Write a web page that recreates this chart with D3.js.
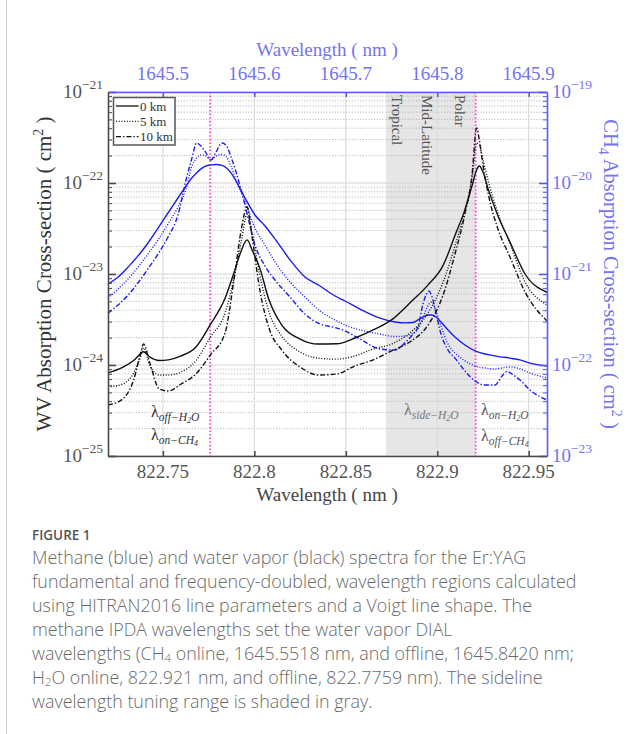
<!DOCTYPE html>
<html><head><meta charset="utf-8">
<script src="https://cdnjs.cloudflare.com/ajax/libs/d3/7.8.5/d3.min.js"></script>
<style>body{margin:0;background:#fff;} svg{display:block}</style>
</head><body>
<svg id="fig" width="641" height="734"></svg>
<script>
// Water vapour cross-sections (cm^2) on the 822 nm grid, for 0, 5 and 10 km altitude
const wvWavelength = [822.7200, 822.7280, 822.7340, 822.7380, 822.7394, 822.7430, 822.7480, 822.7530, 822.7600, 822.7680,
  822.7760, 822.7840, 822.7890, 822.7930, 822.7960, 822.7990, 822.8030, 822.8080, 822.8150, 822.8250,
  822.8350, 822.8450, 822.8550, 822.8650, 822.8750, 822.8850, 822.8950, 822.9030, 822.9100, 822.9150,
  822.9190, 822.9215, 822.9230, 822.9250, 822.9280, 822.9330, 822.9400, 822.9480, 822.9600];
const wv0km = [8.2e-25, 9.4e-25, 1.12e-24, 1.34e-24, 1.40e-24, 1.22e-24, 1.12e-24, 1.14e-24, 1.26e-24, 1.57e-24,
  2.79e-24, 5.4e-24, 1.05e-23, 1.84e-23, 2.37e-23, 1.79e-23, 1.16e-23, 5.2e-24, 2.75e-24, 1.93e-24,
  1.70e-24, 1.71e-24, 1.98e-24, 2.43e-24, 3.13e-24, 4.80e-24, 7.6e-24, 1.22e-23, 2.75e-23, 5.0e-23,
  9.3e-23, 1.39e-22, 1.54e-22, 1.32e-22, 8.4e-23, 4.45e-23, 2.19e-23, 1.0e-23, 6.3e-24];
const wv5km = [5.73e-25, 6.18e-25, 8.17e-25, 1.26e-24, 1.54e-24, 9.75e-25, 7.76e-25, 7.76e-25, 8.38e-25, 1.11e-24,
  2.03e-24, 3.73e-24, 9.27e-24, 2.37e-23, 4.56e-23, 2.69e-23, 9.75e-24, 3.82e-24, 2.08e-24, 1.39e-24,
  1.19e-24, 1.16e-24, 1.26e-24, 1.50e-24, 1.70e-24, 2.25e-24, 3.73e-24, 7.96e-24, 2.14e-23, 4.80e-23,
  1.13e-22, 2.75e-22, 2.62e-22, 1.79e-22, 1.03e-22, 4.80e-23, 2.08e-23, 8.17e-24, 4.56e-24];
const wv10km = [3.63e-25, 4.23e-25, 6.84e-25, 1.39e-24, 1.70e-24, 1.03e-24, 5.45e-25, 5.18e-25, 6.18e-25, 7.96e-25,
  1.29e-24, 2.25e-24, 9.04e-24, 3.20e-23, 5.45e-23, 2.37e-23, 6.67e-24, 2.55e-24, 1.46e-24, 9.51e-25,
  7.76e-25, 7.96e-25, 9.75e-25, 1.14e-24, 1.43e-24, 1.79e-24, 2.75e-24, 5.73e-24, 1.75e-23, 4.45e-23,
  1.22e-22, 4.02e-22, 2.97e-22, 1.58e-22, 7.38e-23, 3.20e-23, 1.50e-23, 6.34e-24, 3.05e-24];

// Methane cross-sections (cm^2) on the 1645 nm grid, for 0, 5 and 10 km altitude
const ch4Wavelength = [1645.4400, 1645.4510, 1645.4619, 1645.4728, 1645.4837, 1645.4947, 1645.5056, 1645.5165, 1645.5253, 1645.5318,
  1645.5368, 1645.5417, 1645.5472, 1645.5526, 1645.5581, 1645.5647, 1645.5696, 1645.5745, 1645.5800, 1645.5898,
  1645.6007, 1645.6117, 1645.6226, 1645.6390, 1645.6554, 1645.6718, 1645.6882, 1645.6991, 1645.7155, 1645.7374,
  1645.7538, 1645.7647, 1645.7735, 1645.7789, 1645.7844, 1645.7877, 1645.7910, 1645.7943, 1645.7986, 1645.8041,
  1645.8118, 1645.8194, 1645.8303, 1645.8413, 1645.8522, 1645.8631, 1645.8708, 1645.8763, 1645.8817, 1645.8905,
  1645.9014, 1645.9200];
const ch4_0km = [7.76e-22, 9.27e-22, 1.19e-21, 1.58e-21, 2.19e-21, 3.20e-21, 4.68e-21, 6.84e-21, 9.27e-21, 1.14e-20,
  1.29e-20, 1.43e-20, 1.54e-20, 1.58e-20, 1.60e-20, 1.56e-20, 1.46e-20, 1.29e-20, 1.05e-20, 6.84e-21,
  4.45e-21, 3.37e-21, 2.43e-21, 1.43e-21, 9.27e-22, 7.38e-22, 5.73e-22, 5.05e-22, 4.12e-22, 3.28e-22,
  2.97e-22, 2.90e-22, 2.93e-22, 3.13e-22, 3.37e-22, 3.50e-22, 3.54e-22, 3.54e-22, 3.37e-22, 2.97e-22,
  2.43e-22, 2.03e-22, 1.66e-22, 1.43e-22, 1.32e-22, 1.26e-22, 1.22e-22, 1.21e-22, 1.18e-22, 1.14e-22,
  1.05e-22, 9.75e-23];
const ch4_5km = [5.45e-22, 6.84e-22, 8.81e-22, 1.19e-21, 1.66e-21, 2.37e-21, 3.54e-21, 5.45e-21, 8.59e-21, 1.54e-20,
  1.88e-20, 2.03e-20, 1.98e-20, 1.79e-20, 1.98e-20, 2.06e-20, 1.93e-20, 1.54e-20, 1.08e-20, 6.34e-21,
  3.20e-21, 2.08e-21, 1.36e-21, 8.17e-22, 5.58e-22, 3.92e-22, 3.13e-22, 2.75e-22, 2.43e-22, 2.19e-22,
  2.06e-22, 2.08e-22, 2.22e-22, 2.49e-22, 3.28e-22, 4.02e-22, 4.68e-22, 4.92e-22, 3.92e-22, 2.69e-22,
  1.70e-22, 1.36e-22, 1.11e-22, 9.75e-23, 9.27e-23, 9.04e-23, 9.27e-23, 9.51e-23, 9.51e-23, 9.04e-23,
  8.17e-23, 7.19e-23];
const ch4_10km = [3.72e-22, 4.56e-22, 5.87e-22, 7.96e-22, 1.14e-21, 1.66e-21, 2.55e-21, 4.45e-21, 1.08e-20, 1.88e-20,
  2.75e-20, 2.55e-20, 2.14e-20, 1.79e-20, 2.19e-20, 2.75e-20, 2.55e-20, 1.93e-20, 1.32e-20, 5.73e-21,
  2.08e-21, 1.22e-21, 8.59e-22, 5.58e-22, 3.63e-22, 2.82e-22, 2.58e-22, 2.37e-22, 1.93e-22, 1.50e-22,
  1.46e-22, 1.75e-22, 2.19e-22, 2.62e-22, 4.68e-22, 5.87e-22, 6.50e-22, 5.58e-22, 3.72e-22, 2.19e-22,
  1.46e-22, 1.19e-22, 8.59e-23, 6.67e-23, 6.03e-23, 6.03e-23, 7.57e-23, 8.49e-23, 7.96e-23, 6.84e-23,
  5.31e-23, 4.12e-23];

// Axis ticks
const bottomTicks = [822.75, 822.8, 822.85, 822.9, 822.95];
const topTicks = [1645.5, 1645.6, 1645.7, 1645.8, 1645.9];
const leftExponents = [-21, -22, -23, -24, -25];
const rightExponents = [-19, -20, -21, -22, -23];

// Laser wavelengths and the sideline tuning range
const h2oOffline = 822.7759;
const h2oOnline = 822.921;
const sidelineRange = [822.872, 822.921];
const regionNames = ["Tropical", "Mid-Latitude", "Polar"];
const regionWavelengths = [822.8780, 822.8943, 822.9125];
const altitudes = ["0 km", "5 km", "10 km"];

const captionLines = [
  "Methane (blue) and water vapor (black) spectra for the Er:YAG",
  "fundamental and frequency-doubled, wavelength regions calculated",
  "using HITRAN2016 line parameters and a Voigt line shape. The",
  "methane IPDA wavelengths set the water vapor DIAL",
  "wavelengths (CH<sub>4</sub> online, 1645.5518 nm, and offline, 1645.8420 nm;",
  "H<sub>2</sub>O online, 822.921 nm, and offline, 822.7759 nm). The sideline",
  "wavelength tuning range is shaded in gray."
];

const svg = d3.select("#fig");
const L = 108, R = 547, T = 92, B = 456;
const serif = "'Liberation Serif', 'Times New Roman', serif";
const blueText = "#7474f2";
const blueLine = "#1c1cf5";
const axisBlue = "#5a5af5";

const x = d3.scaleLinear().domain([822.72, 822.96]).range([L, R]);
const xTop = d3.scaleLinear().domain([1645.44, 1645.92]).range([L, R]);
const yL = d3.scaleLog().domain([1e-25, 1e-21]).range([B, T]);
const yR = d3.scaleLog().domain([1e-23, 1e-19]).range([B, T]);

// figure frame line
svg.append("line").attr("x1", 6.5).attr("x2", 6.5).attr("y1", 0).attr("y2", 734)
  .attr("stroke", "#d0d0d0").attr("stroke-width", 1);

// sideline shading
svg.append("rect").attr("x", x(sidelineRange[0])).attr("y", T)
  .attr("width", x(sidelineRange[1]) - x(sidelineRange[0])).attr("height", B - T)
  .attr("fill", "#e6e6e6");

// grid
const grid = svg.append("g");
const minorVals = [];
for (let e = -25; e < -21; e++) for (let m = 2; m <= 9; m++) minorVals.push(m * Math.pow(10, e));
grid.selectAll(".hmin").data(minorVals).join("line")
  .attr("x1", L).attr("x2", R).attr("y1", d => yL(d)).attr("y2", d => yL(d))
  .attr("stroke", "#b4b4b4").attr("stroke-width", 0.9).attr("stroke-dasharray", "1.2,1.6");
grid.selectAll(".hmaj").data(leftExponents).join("line")
  .attr("x1", L).attr("x2", R).attr("y1", d => yL(Math.pow(10, d))).attr("y2", d => yL(Math.pow(10, d)))
  .attr("stroke", "#d4d4d4").attr("stroke-width", 1.2);
grid.selectAll(".vmaj").data(bottomTicks).join("line")
  .attr("x1", d => x(d)).attr("x2", d => x(d)).attr("y1", T).attr("y2", B)
  .attr("stroke", "#dcdcdc").attr("stroke-width", 1.2);

// laser wavelength markers
svg.selectAll(".laser").data([h2oOffline, h2oOnline]).join("line")
  .attr("x1", d => x(d)).attr("x2", d => x(d)).attr("y1", T).attr("y2", B)
  .attr("stroke", "#ff4fc8").attr("stroke-width", 2).attr("stroke-dasharray", "1.6,2");

// region labels inside the shaded band
svg.selectAll(".region").data(regionNames).join("text")
  .attr("transform", (d, i) => `translate(${x(regionWavelengths[i])},${T + 3}) rotate(90)`)
  .attr("dominant-baseline", "central")
  .attr("font-family", serif).attr("font-size", 15).attr("fill", "#555")
  .text(d => d);

// spectra
const dashes = [null, "1,1.7", "5,2,1.4,2"];
const wvLine = d3.line().x(d => x(d[0])).y(d => yL(d[1])).curve(d3.curveMonotoneX);
const ch4Line = d3.line().x(d => xTop(d[0])).y(d => yR(d[1])).curve(d3.curveMonotoneX);
const ch4Series = [ch4_0km, ch4_5km, ch4_10km];
const wvSeries = [wv0km, wv5km, wv10km];
ch4Series.forEach((s, i) => {
  svg.append("path").datum(ch4Wavelength.map((w, j) => [w, s[j]]))
    .attr("d", ch4Line).attr("fill", "none").attr("stroke", blueLine)
    .attr("stroke-width", 1.4).attr("stroke-dasharray", dashes[i]);
});
wvSeries.forEach((s, i) => {
  svg.append("path").datum(wvWavelength.map((w, j) => [w, s[j]]))
    .attr("d", wvLine).attr("fill", "none").attr("stroke", "#111")
    .attr("stroke-width", 1.4).attr("stroke-dasharray", dashes[i]);
});

// axes
const minorTicks = (g, scale, side, color) => {
  const ax = side === "left" ? d3.axisLeft(scale) : d3.axisRight(scale);
  g.call(ax.tickValues(minorVals.map(v => side === "left" ? v : v * 100)).tickSize(-4).tickFormat(""));
  g.select(".domain").remove();
  g.selectAll("line").attr("stroke", color).attr("stroke-width", 1);
};
const gL = svg.append("g").attr("transform", `translate(${L},0)`);
gL.call(d3.axisLeft(yL).tickValues(leftExponents.map(e => Math.pow(10, e))).tickSize(-8).tickSizeOuter(0).tickFormat(""));
gL.selectAll("line, path").attr("stroke", "#4a4a4a").attr("stroke-width", 1.6);
minorTicks(svg.append("g").attr("transform", `translate(${L},0)`), yL, "left", "#4a4a4a");

const gR = svg.append("g").attr("transform", `translate(${R},0)`);
gR.call(d3.axisRight(yR).tickValues(rightExponents.map(e => Math.pow(10, e))).tickSize(-8).tickSizeOuter(0).tickFormat(""));
gR.selectAll("line, path").attr("stroke", axisBlue).attr("stroke-width", 1.6);
minorTicks(svg.append("g").attr("transform", `translate(${R},0)`), yR, "right", axisBlue);

const gB = svg.append("g").attr("transform", `translate(0,${B})`);
gB.call(d3.axisBottom(x).tickValues(bottomTicks).tickSize(-5).tickSizeOuter(0).tickFormat(""));
gB.selectAll("line, path").attr("stroke", "#4a4a4a").attr("stroke-width", 1.6);

const gT = svg.append("g").attr("transform", `translate(0,${T})`);
gT.call(d3.axisTop(xTop).tickValues(topTicks).tickSize(-5).tickSizeOuter(0).tickFormat(""));
gT.selectAll("line, path").attr("stroke", axisBlue).attr("stroke-width", 1.6);

// tick labels
svg.selectAll(".bl").data(bottomTicks).join("text")
  .attr("x", d => x(d)).attr("y", B + 22).attr("text-anchor", "middle")
  .attr("font-family", serif).attr("font-size", 19).attr("fill", "#555")
  .text(d => d3.format("")(d));
svg.selectAll(".tl").data(topTicks).join("text")
  .attr("x", d => xTop(d)).attr("y", T - 12).attr("text-anchor", "middle")
  .attr("font-family", serif).attr("font-size", 19).attr("fill", blueText)
  .text(d => d3.format(".1f")(d));

const powLabel = (sel, exps, scale, xpos, anchor, color) => {
  sel.data(exps).join("text")
    .attr("x", xpos).attr("y", d => scale(Math.pow(10, d)) + 6).attr("text-anchor", anchor)
    .attr("font-family", serif).attr("fill", color)
    .each(function (d) {
      const t = d3.select(this);
      t.append("tspan").attr("font-size", 19).text("10");
      t.append("tspan").attr("font-size", 13.5).attr("dy", -9).text("\u2212" + Math.abs(d));
    });
};
powLabel(svg.selectAll(".ll"), leftExponents, d => yL(d), 103, "end", "#555");
powLabel(svg.selectAll(".rl"), rightExponents, d => yR(d), 552, "start", blueText);

// axis titles
const title = (tx, ty, rot, color, size) => svg.append("text")
  .attr("transform", `translate(${tx},${ty}) rotate(${rot})`).attr("text-anchor", "middle")
  .attr("font-family", serif).attr("font-size", size).attr("fill", color);
title(327, B + 45, 0, "#444", 19).text("Wavelength ( nm )");
title(327, T - 36, 0, blueText, 19).text("Wavelength ( nm )");
const lt = title(51, 274, -90, "#333", 21);
lt.append("tspan").text("WV Absorption Cross-section ( cm");
lt.append("tspan").attr("font-size", 14).attr("dy", -8).text("2");
lt.append("tspan").attr("dy", 8).text(" )");
const rt = title(604, 274, 90, blueText, 20.5);
rt.append("tspan").text("CH");
rt.append("tspan").attr("font-size", 14).attr("dy", 5).text("4");
rt.append("tspan").attr("dy", -5).text(" Absorption Cross-section ( cm");
rt.append("tspan").attr("font-size", 14).attr("dy", -8).text("2");
rt.append("tspan").attr("dy", 8).text(" )");

// wavelength annotations: lambda with italic subscript and optional H2O / CH4 sub-subscript
const lam = (tx, ty, parts, color) => {
  const t = svg.append("text").attr("x", tx).attr("y", ty)
    .attr("font-family", serif).attr("fill", color);
  t.append("tspan").attr("font-size", 16).text("\u03bb");
  let dy = 4;
  parts.forEach(p => {
    t.append("tspan").attr("font-size", p[1] ? 8 : 11.5).attr("font-style", "italic")
      .attr("dy", p[1] ? 2 : dy).text(p[0]);
    dy = p[1] ? -2 : 0;
  });
};
lam(151, 417, [["off\u2212H", 0], ["2", 1], ["O", 0]], "#333");
lam(151, 440, [["on\u2212CH", 0], ["4", 1]], "#333");
lam(404, 415, [["side\u2212H", 0], ["2", 1], ["O", 0]], "#777");
lam(481, 415, [["on\u2212H", 0], ["2", 1], ["O", 0]], "#555");
lam(481, 441, [["off\u2212CH", 0], ["4", 1]], "#555");

// legend
const lg = svg.append("g");
lg.append("rect").attr("x", 113.5).attr("y", 97.5).attr("width", 61.5).attr("height", 47.5)
  .attr("fill", "#fff").attr("stroke", "#555").attr("stroke-width", 1.5);
altitudes.forEach((a, i) => {
  const yy = 106 + i * 15.3;
  lg.append("line").attr("x1", 116).attr("x2", 138.5).attr("y1", yy).attr("y2", yy)
    .attr("stroke", "#111").attr("stroke-width", 1.3).attr("stroke-dasharray", dashes[i]);
  lg.append("text").attr("x", 140).attr("y", yy + 4.5).attr("font-family", serif)
    .attr("font-size", 13).attr("fill", "#333").text(a);
});

// caption
const sans = "'Open Sans', 'Noto Sans', sans-serif";
svg.append("text").attr("x", 32).attr("y", 540).attr("font-family", sans)
  .attr("font-size", 13.5).attr("font-weight", 600).attr("fill", "#555").text("FIGURE 1");
captionLines.forEach((line, i) => {
  const t = svg.append("text").attr("x", 32).attr("y", 564 + i * 24)
    .attr("font-family", sans).attr("font-size", 17.9).attr("font-weight", 300).attr("fill", "#6a6a6a");
  let shift = 0;
  line.split(/(<sub>.*?<\/sub>)/).forEach(b => {
    const m = b.match(/<sub>(.*?)<\/sub>/);
    if (m) {
      t.append("tspan").attr("font-size", 11.5).attr("dy", 2).text(m[1]);
      shift = -2;
    } else if (b) {
      t.append("tspan").attr("dy", shift).text(b);
      shift = 0;
    }
  });
});
</script>
</body></html>
